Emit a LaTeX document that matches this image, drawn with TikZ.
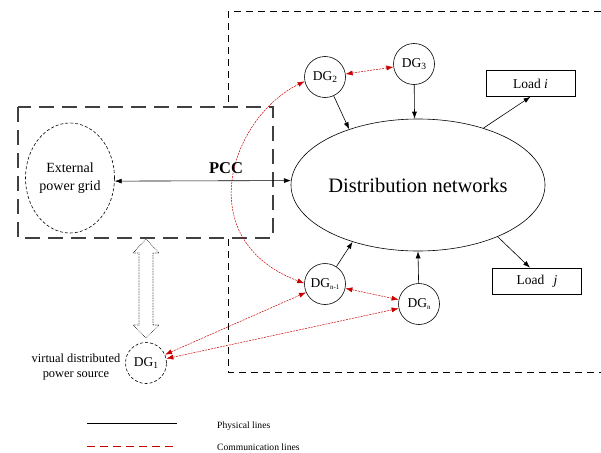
\documentclass[tikz,border=0pt]{standalone}
\usepackage{fontspec}
\setmainfont{Liberation Serif}
\usetikzlibrary{arrows.meta,shapes.geometric}
\definecolor{commred}{RGB}{200,0,0}
\newcommand{\dgsub}[1]{\raisebox{-2.5pt}{\fontsize{9.5}{10}\selectfont #1}}
\newcommand{\dgsubsmall}[1]{\raisebox{-2.5pt}{\fontsize{7}{8}\selectfont #1}}
\tikzset{
  dgnode/.style={circle,draw,line width=0.6pt,minimum size=41pt,inner sep=0pt,font=\fontsize{13.5}{15}\selectfont},
  loadbox/.style={draw,line width=0.6pt,minimum width=89pt,minimum height=26pt,inner sep=0pt,font=\fontsize{13.5}{15}\selectfont},
  phys/.style={line width=0.6pt,-{Latex[length=7pt,width=5pt]}},
  comm/.style={commred,line width=0.5pt,dash pattern=on 2pt off 1pt,{Latex[length=7pt,width=5pt]}-{Latex[length=7pt,width=5pt]}},
  commleg/.style={color=commred,line width=1pt,dash pattern=on 8pt off 5pt},
  legtext/.style={anchor=west,inner sep=0pt,font=\fontsize{9.6}{11}\selectfont},
}
\begin{document}
\begin{tikzpicture}[x=1pt,y=-1pt]
\useasboundingbox (0,0) rectangle (601,452);
% right dashed region (open on the right)
\draw[line width=1pt,dash pattern=on 7pt off 5pt] (601,12) -- (228,12) -- (228,372) -- (601,372);
% left dashed box
\draw[line width=1.3pt,draw=black!75,fill=white,dash pattern=on 15pt off 8pt] (18,107) rectangle (273,238);
% nodes
\node[ellipse,draw,densely dashed,line width=0.6pt,minimum width=89pt,minimum height=110pt,inner sep=0pt,align=center,font=\fontsize{14}{18}\selectfont] (ext) at (70,178) {External\\power grid};
\node[ellipse,draw,line width=0.6pt,minimum width=254pt,minimum height=132pt,inner sep=0pt,font=\fontsize{20.5}{24}\selectfont] (dist) at (418,185) {Distribution networks};
\node[dgnode] (dg2) at (325,77) {DG\dgsub{2}};
\node[dgnode] (dg3) at (414,64) {DG\dgsub{3}};
\node[dgnode] (dgm) at (325,284) {DG\dgsubsmall{n-1}};
\node[dgnode] (dgn) at (419,304) {DG\dgsubsmall{n}};
\node[dgnode,densely dashed] (dg1) at (146,363) {DG\dgsub{1}};
\node[loadbox] (loadi) at (530.5,83.5) {Load \textit{i}};
\node[loadbox] (loadj) at (537,281) {Load\hspace{0.7em}\textit{j}};
\node[align=center,font=\fontsize{12.4}{15}\selectfont] (vdps) at (76,367) {virtual distributed\\power source};
\node[font=\bfseries\fontsize{16.5}{18}\selectfont] (pcc) at (226,168) {PCC};
% physical lines
\draw[line width=0.6pt,{Latex[length=7pt,width=5pt]}-{Latex[length=7pt,width=5pt]}] (ext.-4) -- (dist.178);
\draw[phys] (dg2) -- (dist.141);
\draw[phys] (dg3) -- (dist.93);
\draw[phys] (dgm) -- (dist.221);
\draw[phys] (dgn) -- (dist.270);
\draw[phys] (dist.41) -- (loadi.south);
\draw[phys] (dist.327) -- ([xshift=-7pt]loadj.north);
% communication lines
\draw[comm] (dg2) -- (dg3);
\draw[comm] (dgm) -- (dgn);
\draw[comm] (dg1) -- (dgm);
\draw[comm] (dg1) -- (dgn);
\draw[comm] (dg2.192) .. controls (230,118) and (190,240) .. (dgm.178);
% hollow double arrow
\draw[line width=0.6pt,densely dotted] (146,239) -- (159,253) -- (153,253) -- (153,325) -- (159,325) -- (146,338) -- (133,325) -- (139,325) -- (139,253) -- (133,253) -- cycle;
% legend
\coordinate (l1a) at (87,423); \coordinate (l1b) at (177,423);
\coordinate (l2a) at (87,446); \coordinate (l2b) at (177,446);
\draw[line width=0.8pt] (l1a) -- (l1b);
\draw[commleg] (l2a) -- (l2b);
\node[legtext] (leg1) at (217,426) {Physical lines};
\node[legtext] (leg2) at (217,447.5) {Communication lines};
\end{tikzpicture}
\end{document}
